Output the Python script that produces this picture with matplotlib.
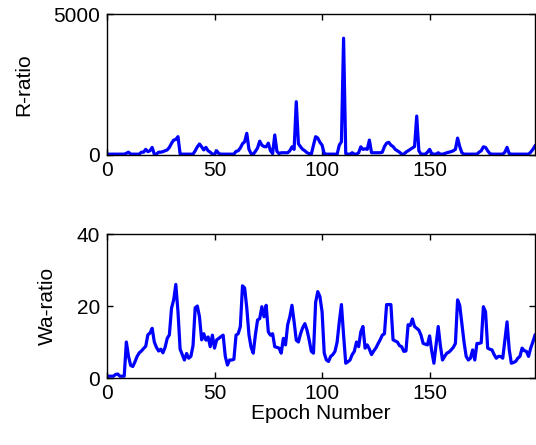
import numpy as np
import matplotlib
matplotlib.use("Agg")
import matplotlib.pyplot as plt

plt.rcParams['font.family'] = ['Liberation Sans', 'DejaVu Sans']

epochs = list(range(200))

r_ratio = [
    30, 30, 30, 30, 30, 30, 30, 30, 30, 60,
    100, 30, 30, 30, 30, 30, 100, 100, 200, 120,
    150, 270, 30, 30, 100, 100, 120, 150, 180, 270,
    415, 530, 550, 650, 40, 30, 30, 30, 30, 30,
    30, 150, 290, 390, 290, 180, 270, 150, 100, 30,
    30, 150, 50, 30, 30, 30, 30, 30, 30, 30,
    130, 150, 250, 400, 470, 770, 200, 50, 30, 130,
    250, 490, 350, 300, 290, 420, 150, 50, 710, 130,
    50, 80, 80, 80, 80, 150, 290, 200, 1890, 400,
    290, 200, 150, 80, 50, 30, 350, 650, 600, 450,
    350, 50, 30, 30, 30, 30, 30, 30, 350, 470,
    4140, 50, 30, 30, 80, 30, 30, 80, 290, 200,
    220, 200, 530, 80, 80, 80, 80, 80, 100, 300,
    420, 450, 350, 300, 200, 150, 100, 30, 30, 100,
    150, 200, 250, 300, 1380, 150, 30, 30, 30, 100,
    200, 50, 30, 30, 80, 30, 30, 50, 80, 100,
    120, 150, 200, 600, 300, 80, 30, 30, 30, 30,
    30, 30, 30, 100, 150, 290, 270, 150, 50, 30,
    30, 30, 30, 30, 30, 100, 270, 50, 30, 30,
    30, 30, 30, 30, 30, 30, 30, 100, 200, 320,
]

wa_ratio = [
    0.5, 0.5, 0.5, 0.5, 1.0, 1.1, 0.5, 0.5, 0.5, 10,
    6, 3.5, 3.2, 4.5, 6, 7, 7.5, 8.2, 8.8, 12,
    12.5, 13.8, 10, 8.5, 7.5, 8, 7, 8.5, 11, 12,
    19.4, 21.7, 26, 18.4, 8, 6.5, 5, 6.8, 5.5, 6,
    9, 19.5, 20, 17, 10.6, 12.3, 10.5, 11.4, 8.7, 11.9,
    8.3, 10.6, 11, 11.5, 11.9, 6, 3.6, 5, 5, 5.2,
    11.9, 12.3, 14.3, 25.6, 25, 19.4, 12, 8.5, 6.9, 12,
    16.1, 16.5, 19.8, 17, 20.2, 12.8, 11.9, 12.3, 8.7, 8.5,
    8.3, 6.9, 11, 9.2, 14.8, 17, 20.2, 15.6, 10.5, 10,
    12.3, 14, 15.1, 13.3, 10.6, 7.4, 6.9, 21, 24, 22.6,
    18.4, 6.9, 5, 4.6, 6, 6.5, 7.4, 10, 15.6, 20.4,
    11.9, 4.1, 4.5, 5, 6.5, 7.4, 10, 8.7, 12.8, 14.3,
    8.3, 9.2, 8, 6.5, 7.5, 8.3, 9.5, 10.6, 11.9, 12.3,
    20.4, 20.4, 20.4, 10.6, 10.3, 10, 9, 8.7, 7.4, 7.5,
    14.8, 14.6, 16.4, 14.3, 13.8, 13.3, 11.9, 9.6, 9.4, 9.2,
    11.7, 7.4, 4.1, 9.2, 14.3, 9, 5, 6, 6.9, 7.2,
    7.8, 8.5, 9.6, 21.7, 20.2, 15, 10, 6, 5, 5.5,
    7.8, 5, 9.6, 9.6, 9.8, 19.8, 18.4, 8.3, 8, 7.8,
    6.5, 5.5, 6, 6, 5.5, 10.6, 15.6, 8, 4.1, 4.3,
    4.6, 5.5, 6, 8.3, 7.6, 7.4, 6, 8.3, 10, 11.9,
]

x_ticks = [0, 50, 100, 150]
FS = 15

fig = plt.figure(figsize=(5.36, 4.45), dpi=100)
ax1 = fig.add_axes([107/536, 1-155/445, 428/536, 141/445])
ax2 = fig.add_axes([107/536, 1-378/445, 428/536, 144/445])

for ax in (ax1, ax2):
    ax.tick_params(direction='in', top=True, right=True, length=4, width=1,
                   labelsize=FS, pad=5)
    ax.tick_params(axis='x', pad=4)
    for s in ax.spines.values():
        s.set_linewidth(1)
    ax.set_xlim(0, 199)
    ax.set_xticks(x_ticks)

ax1.plot(epochs, r_ratio, color=(0, 0, 1), linewidth=2.3)
ax1.set_ylim(0, 5000)
ax1.set_yticks([0, 5000])
ax1.set_ylabel('R-ratio', fontsize=FS, labelpad=14)

ax2.plot(epochs, wa_ratio, color=(0, 0, 1), linewidth=2.3)
ax2.set_ylim(0, 40)
ax2.set_yticks([0, 20, 40])
ax2.set_ylabel('Wa-ratio', fontsize=FS, labelpad=14)
ax2.set_xlabel('Epoch Number', fontsize=FS, labelpad=1)

fig.savefig('out.png', dpi=100)
